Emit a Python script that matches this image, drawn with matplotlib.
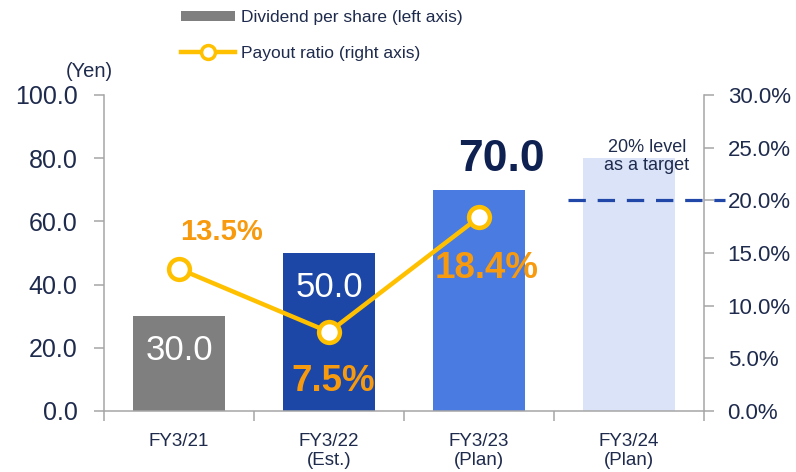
import matplotlib
matplotlib.use("Agg")
import matplotlib.pyplot as plt
from matplotlib.lines import Line2D
from matplotlib.patches import Patch

plt.rcParams["font.family"] = ["Liberation Sans", "DejaVu Sans"]
plt.rcParams["lines.scale_dashes"] = False

# data
categories = ["FY3/21", "FY3/22\n(Est.)", "FY3/23\n(Plan)", "FY3/24\n(Plan)"]
dividend = [30.0, 50.0, 70.0, 80.0]
dividend_labels = ["30.0", "50.0", "70.0", None]
payout_ratio = [13.5, 7.5, 18.4]
payout_labels = ["13.5%", "7.5%", "18.4%"]
target_ratio = 20.0
left_ticks = [0, 20, 40, 60, 80, 100]
right_ticks = [0, 5, 10, 15, 20, 25, 30]

NAVY = "#1F2B4D"
SPINE = "#A6A6A6"
GOLD = "#FFC000"
ORANGE = "#F79A0E"
bar_colors = ["#7F7F7F", "#1C47A6", "#4A7BE0", "#DAE3F7"]

fig = plt.figure(figsize=(7.96, 4.72), dpi=100)
ax = fig.add_axes([104 / 796, 61 / 472, 600 / 796, 316 / 472])
ax2 = ax.twinx()

x = list(range(len(categories)))
ax.bar(x, dividend, width=0.61, color=bar_colors, zorder=2)

# bar value labels
for i, (v, lab) in enumerate(zip(dividend, dividend_labels)):
    if lab is None:
        continue
    if i == 2:
        ax.text(i + 0.15, v + 9.5, lab, ha="center", va="center", fontsize=32,
                fontweight="bold", color="#0E2150")
    else:
        ax.text(i, v - 11, lab, ha="center", va="center", fontsize=25,
                color="white", zorder=3)

ax.set_xlim(-0.5, 3.5)
ax.set_ylim(0, 100)
ax.set_yticks(left_ticks)
ax.set_yticklabels([f"{t:.1f}" for t in left_ticks])
ax.set_xticks(x)
ax.set_xticklabels(categories, linespacing=1.15)
ax.set_xticks([-0.5, 0.5, 1.5, 2.5, 3.5], minor=True)
ax.tick_params(axis="x", which="major", length=0, pad=16, labelsize=13.5,
               labelcolor=NAVY)
ax.tick_params(axis="x", which="minor", length=7, width=1.1, color=SPINE)
ax.tick_params(axis="y", length=7, width=1.1, color=SPINE, pad=12,
               labelsize=18, labelcolor=NAVY)

for a in (ax, ax2):
    for side in ("left", "right", "bottom"):
        a.spines[side].set_color(SPINE)
        a.spines[side].set_linewidth(1.1)
    a.spines["top"].set_visible(False)
ax.spines["right"].set_visible(False)
ax2.spines["left"].set_visible(False)
ax2.spines["bottom"].set_visible(False)

ax.text(-0.6, 104.5, "(Yen)", ha="center", va="bottom", fontsize=14.5,
        color=NAVY)

# payout ratio line on the right axis
ax2.set_ylim(0, 30)
ax2.set_yticks(right_ticks)
ax2.set_yticklabels([f"{t:.1f}%" for t in right_ticks])
ax2.tick_params(axis="y", length=7, width=1.1, color=SPINE, pad=10,
                labelsize=16, labelcolor=NAVY)
ax2.plot(x[:len(payout_ratio)], payout_ratio, color=GOLD, lw=3.2,
         marker="o", ms=15, mfc="white", mec=GOLD, mew=3.2, zorder=5)

label_offsets = [(0.28, 3.5, 21), (0.03, -4.7, 26.5), (0.05, -4.9, 26.5)]
for i, (v, lab) in enumerate(zip(payout_ratio, payout_labels)):
    dx, dy, fs = label_offsets[i]
    ax2.text(i + dx, v + dy, lab, ha="center", va="center", fontsize=fs,
             fontweight="bold", color=ORANGE, zorder=6)

# 20% target line
ax2.plot([0.773, 1.035], [target_ratio, target_ratio],
         transform=ax2.get_yaxis_transform(), color="#2148A8", lw=2.3,
         dashes=(12.5, 8.5), clip_on=False, zorder=4)
ax.text(3.12, 80.5, "20% level\nas a target", ha="center", va="center",
        fontsize=13, color=NAVY, linespacing=1.05, zorder=3)

handles = [
    Patch(facecolor="#7F7F7F", edgecolor="none"),
    Line2D([], [], color=GOLD, lw=3.2, marker="o", ms=10, mfc="white",
           mec=GOLD, mew=2.5),
]
fig.legend(handles, ["Dividend per share (left axis)", "Payout ratio (right axis)"],
           loc="upper left", bbox_to_anchor=(181 / 796, 1 - 10 / 472),
           frameon=False, fontsize=12.5, handlelength=3.1, handleheight=0.55,
           handletextpad=0.35, labelspacing=1.2, borderpad=0,
           borderaxespad=0, labelcolor=NAVY)

fig.savefig("out.png", dpi=100)
